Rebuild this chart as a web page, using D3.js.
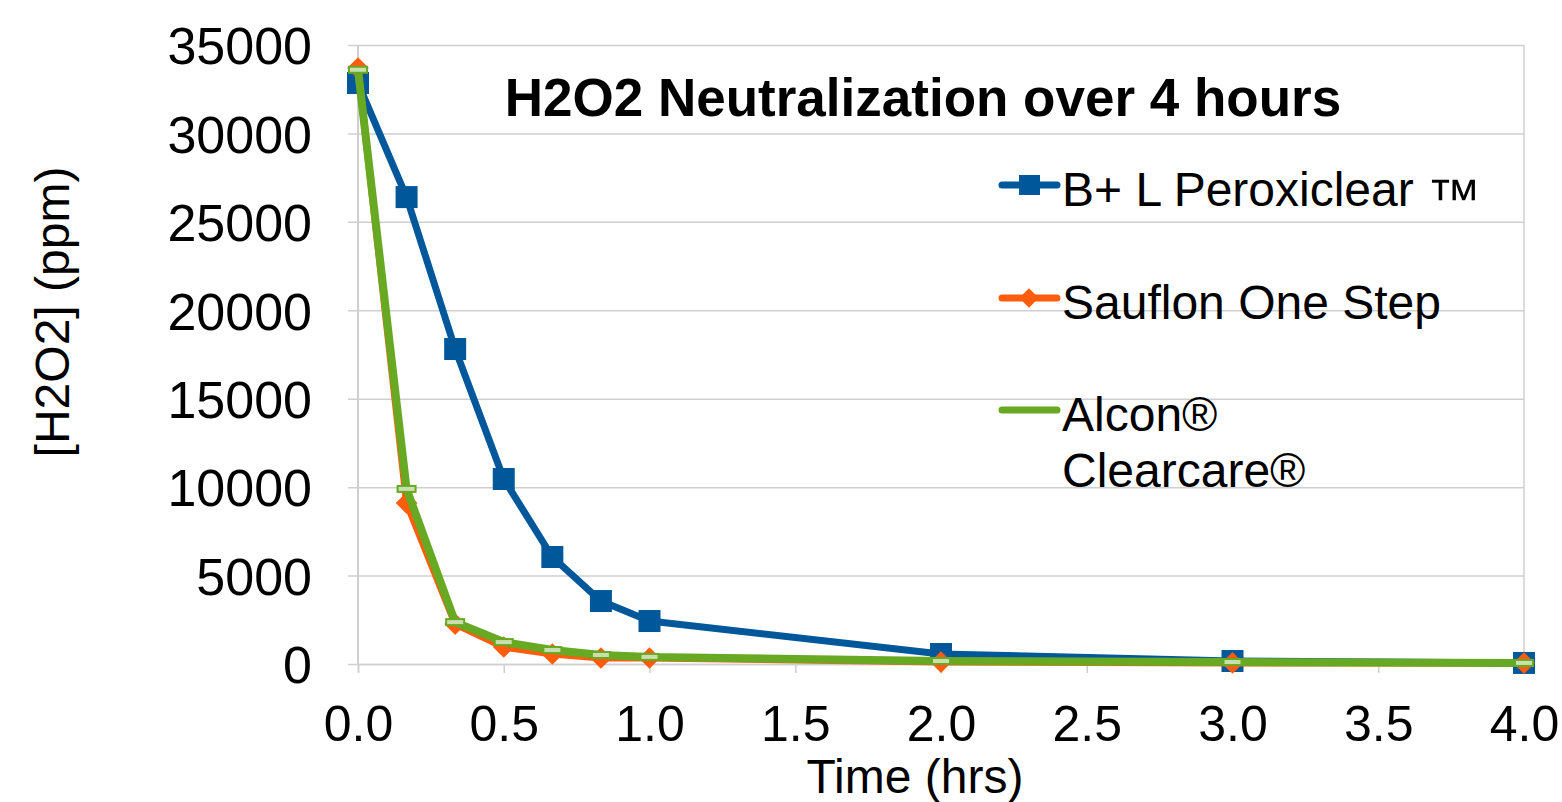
<!DOCTYPE html>
<html><head><meta charset="utf-8">
<script src="https://cdn.jsdelivr.net/npm/d3@7/dist/d3.min.js"></script>
<style>body{margin:0;background:#fff;} text{font-family:"Liberation Sans",Arial,sans-serif;}</style>
</head><body>
<svg id="c" width="1562" height="802"></svg>
<script>
const times = [0, 1/6, 1/3, 0.5, 2/3, 5/6, 1, 2, 3, 4];
const peroxiclear = [32850, 26400, 17810, 10460, 6050, 3560, 2430, 565, 170, 60];
const sauflon = [33700, 9100, 2260, 960, 565, 340, 340, 110, 60, 50];
const clearcare = [33600, 9900, 2370, 1240, 790, 510, 400, 170, 110, 60];
const seriesNames = ["B+ L Peroxiclear \u2122", "Sauflon One Step", "Alcon\u00AE Clearcare\u00AE"];
const xTicks = [0, 0.5, 1, 1.5, 2, 2.5, 3, 3.5, 4];
const yTicks = [0, 5000, 10000, 15000, 20000, 25000, 30000, 35000];
const title = "H2O2 Neutralization over 4 hours";
const xTitle = "Time (hrs)";
const yTitle = "[H2O2] (ppm)";

const svg = d3.select("#c");
const L = 358, R = 1524, T = 45, B = 664;
const x = d3.scaleLinear().domain([0, 4]).range([L, R]);
const y = d3.scaleLinear().domain([0, 35000]).range([B, T]);
const grid = "#cfcfcf";

// horizontal gridlines
const yAxis = d3.axisLeft(y).tickValues(yTicks).tickSize(-(R - L)).tickFormat(d3.format("d"));
const gy = svg.append("g").attr("transform", `translate(${L},0)`).call(yAxis);
gy.select(".domain").remove();
gy.selectAll("line").attr("stroke", grid).attr("stroke-width", 1.5).attr("x1", -10);
gy.selectAll("text").attr("font-size", 52).attr("fill", "#000").attr("x", -46).attr("dy", "0.36em");

// x axis
const xAxis = d3.axisBottom(x).tickValues(xTicks).tickSize(9).tickFormat(d3.format(".1f"));
const gx = svg.append("g").attr("transform", `translate(0,${B})`).call(xAxis);
gx.select(".domain").attr("stroke", grid).attr("stroke-width", 1.5);
gx.selectAll("line").attr("stroke", grid).attr("stroke-width", 1.5);
gx.selectAll("text").attr("font-size", 50).attr("fill", "#000").attr("y", 41).attr("dy", "0.72em");

// left & right border
svg.append("line").attr("x1", L).attr("x2", L).attr("y1", T).attr("y2", B).attr("stroke", grid).attr("stroke-width", 2);
svg.append("line").attr("x1", R).attr("x2", R).attr("y1", T).attr("y2", B + 9).attr("stroke", grid).attr("stroke-width", 1.5);

// titles
svg.append("text").attr("x", 923).attr("y", 116).attr("text-anchor", "middle").attr("font-weight", "bold").attr("font-size", 53).text(title);
svg.append("text").attr("x", 915).attr("y", 793).attr("text-anchor", "middle").attr("font-size", 48).text(xTitle);
svg.append("text").attr("transform", "translate(69,312) rotate(-90)").attr("text-anchor", "middle").attr("font-size", 48).text(yTitle);

const line = d3.line().x((d, i) => x(times[i])).y(d => y(d));
const blue = "#00589b", orange = "#ff5c0e", green = "#68a924";

// blue series
svg.append("path").datum(peroxiclear).attr("d", line).attr("fill", "none").attr("stroke", blue).attr("stroke-width", 7).attr("stroke-linejoin", "round");
svg.selectAll(".sq").data(peroxiclear).enter().append("rect")
  .attr("x", (d, i) => x(times[i]) - 11).attr("y", d => y(d) - 11).attr("width", 22).attr("height", 22).attr("fill", blue);

// orange series
svg.append("path").datum(sauflon).attr("d", line).attr("fill", "none").attr("stroke", orange).attr("stroke-width", 7).attr("stroke-linejoin", "round");
const diamond = d3.symbol().type(d3.symbolDiamond2).size(300);
svg.selectAll(".dm").data(sauflon).enter().append("path")
  .attr("d", diamond).attr("transform", (d, i) => `translate(${x(times[i])},${y(d)})`).attr("fill", orange);

// green series
svg.append("path").datum(clearcare).attr("d", line).attr("fill", "none").attr("stroke", green).attr("stroke-width", 8).attr("stroke-linejoin", "round");
svg.selectAll(".gm").data(clearcare).enter().append("rect")
  .attr("x", (d, i) => x(times[i]) - 9).attr("y", d => y(d) - 3).attr("width", 18).attr("height", 6)
  .attr("fill", "#c9e0ae").attr("stroke", green).attr("stroke-width", 2);

// legend
const lg = svg.append("g");
const legY = [185, 298, 410];
const cols = [blue, orange, green];
lg.selectAll(".ll").data(legY).enter().append("line")
  .attr("x1", 1002).attr("x2", 1057).attr("y1", d => d).attr("y2", d => d)
  .attr("stroke", (d, i) => cols[i]).attr("stroke-width", 7).attr("stroke-linecap", "round");
lg.append("rect").attr("x", 1019).attr("y", 175).attr("width", 21).attr("height", 20).attr("fill", blue);
lg.append("path").attr("d", d3.symbol().type(d3.symbolDiamond2).size(240)).attr("transform", "translate(1029,298)").attr("fill", orange);
lg.append("text").attr("x", 1062).attr("y", 206).attr("font-size", 48).text("B+ L Peroxiclear ")
  .append("tspan").attr("font-size", 54).attr("dy", 11).text("\u2122");
lg.append("text").attr("x", 1062).attr("y", 319).attr("font-size", 48).text(seriesNames[1]);
lg.append("text").attr("x", 1062).attr("y", 431).attr("font-size", 48).text("Alcon\u00AE");
lg.append("text").attr("x", 1062).attr("y", 487).attr("font-size", 48).text("Clearcare\u00AE");
</script>
</body></html>
